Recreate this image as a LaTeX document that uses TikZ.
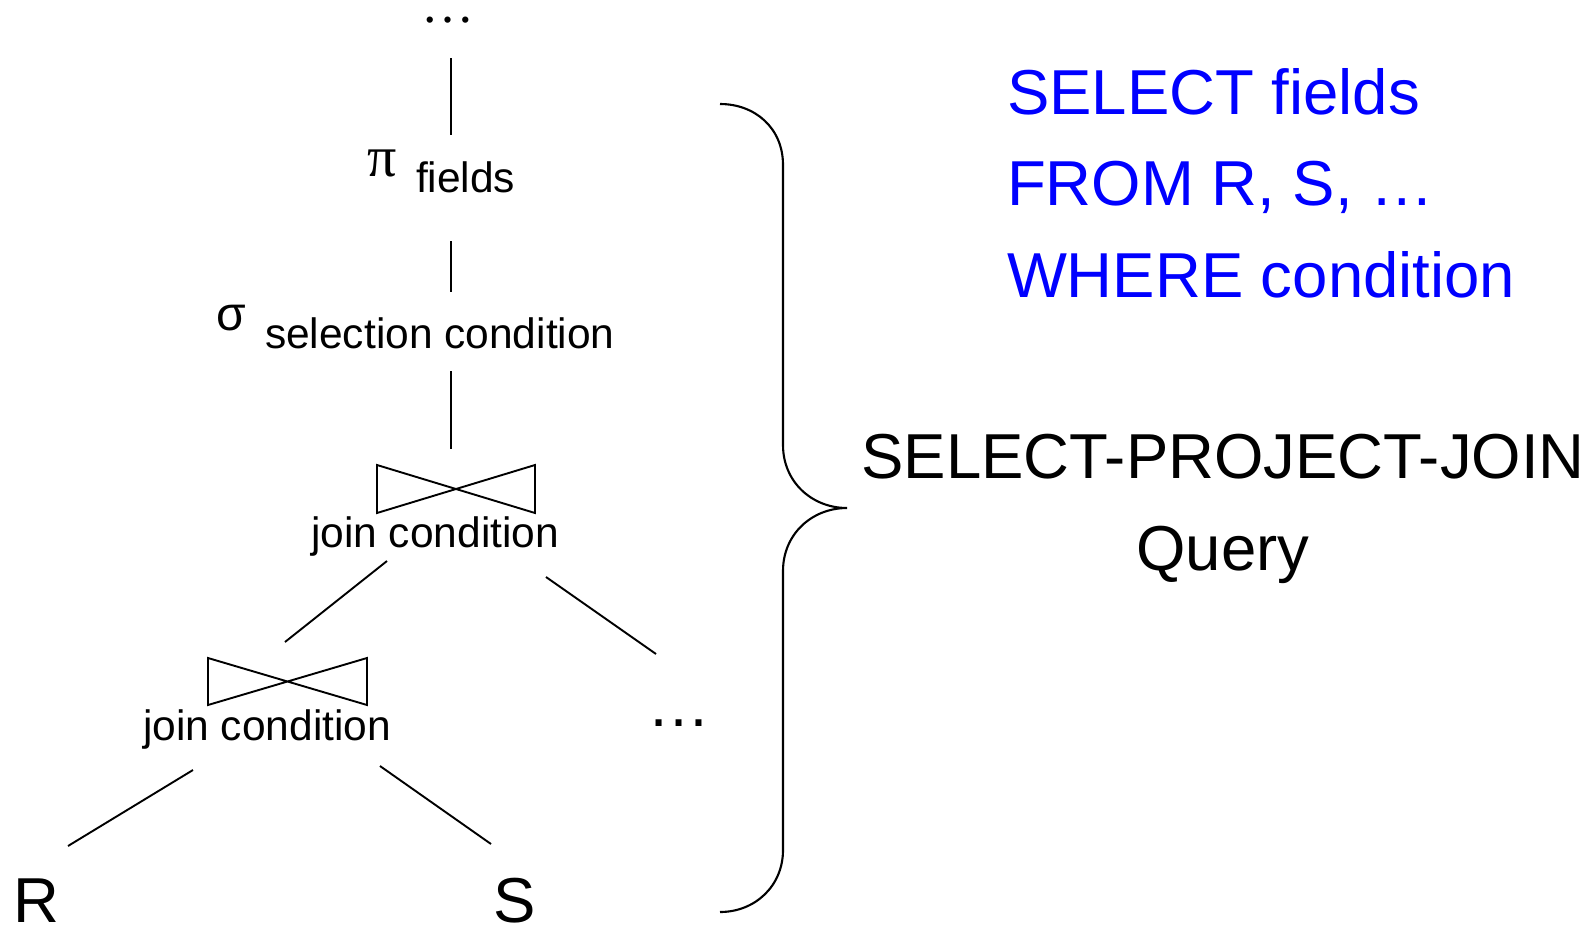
\documentclass[tikz,border=0pt]{standalone}
\usepackage{fontspec}
\setmainfont{Liberation Sans}
\newfontfamily\seriffont{Liberation Serif}
\usetikzlibrary{calc}

\tikzset{
  txt/.style={anchor=base west, inner sep=0pt, outer sep=0pt},
  small/.style={txt, font=\fontsize{42.5}{50}\selectfont},
  big/.style={txt, font=\fontsize{63.5}{76}\selectfont},
  sqlline/.style={big, text=sqlblue},
  link/.style={line width=1.9pt, line cap=butt},
  bowtie/.style={line width=1.9pt, line join=miter},
  bracepath/.style={line width=2.1pt},
}
\definecolor{sqlblue}{RGB}{0,0,255}

\begin{document}
\begin{tikzpicture}[x=1pt, y=-1pt]
  \useasboundingbox (0,0) rectangle (1595,924);

  % ---------- operator tree ----------
  \node[txt, font=\seriffont\fontsize{53}{53}\selectfont, text height=10pt, text depth=0pt] (top) at (421,22) {…};
  \node[txt, font=\seriffont\fontsize{58}{58}\selectfont] (pi) at (367,176) {π};
  \node[small] (pisub) at (416,192) {fields};
  \node[txt, font=\fontsize{48}{48}\selectfont] (sigma) at (216,330) {σ};
  \node[small] (selcond) at (265,348) {selection condition};

  % join operators (bow-tie symbols)
  \coordinate (j1) at (456,489);
  \draw[bowtie] (377,465) -- (535,513) -- (535,465) -- (377,513) -- cycle;
  \node[small] (jc1) at (311,547) {join condition};

  \coordinate (j2) at (288,682);
  \draw[bowtie] (208,658) -- (367,705) -- (367,658) -- (208,705) -- cycle;
  \node[small] (jc2) at (143,740) {join condition};

  \node[txt, font=\fontsize{63}{63}\selectfont] (more) at (647,726) {…};
  \node[big, text depth=0pt] (R) at (13,922) {R};
  \node[big, text depth=0pt] (S) at (493,922) {S};

  % connector end points
  \coordinate (top-b)  at (451,58);
  \coordinate (pi-t)   at (451,135);
  \coordinate (pi-b)   at (451,241);
  \coordinate (sel-t)  at (451,292);
  \coordinate (sel-b)  at (451,371);
  \coordinate (j1-t)   at (451,449);
  \coordinate (jc1-bl) at (387,561);
  \coordinate (j2-t)   at (285,642);
  \coordinate (jc1-br) at (546,577);
  \coordinate (more-t) at (656,654);
  \coordinate (jc2-bl) at (193,770);
  \coordinate (R-t)    at (68,846);
  \coordinate (jc2-br) at (380,766);
  \coordinate (S-t)    at (491,844);

  \draw[link] (top-b) -- (pi-t);
  \draw[link] (pi-b) -- (sel-t);
  \draw[link] (sel-b) -- (j1-t);
  \draw[link] (jc1-bl) -- (j2-t);
  \draw[link] (jc1-br) -- (more-t);
  \draw[link] (jc2-bl) -- (R-t);
  \draw[link] (jc2-br) -- (S-t);

  % ---------- curly brace ----------
  \coordinate (br-top) at (720,104);
  \coordinate (br-tip) at (847,508);
  \coordinate (br-bot) at (720,912);
  \draw[bracepath] (br-top)
      .. controls (755,104) and (783,128) .. (783,165)
      -- (783,445)
      .. controls (783,482) and (812,508) .. (br-tip)
      .. controls (812,508) and (783,534) .. (783,571)
      -- (783,850)
      .. controls (783,886) and (755,912) .. (br-bot);

  % ---------- SQL text ----------
  \node[sqlline] (sql1) at (1007,114) {SELECT fields};
  \node[sqlline] (sql2) at (1007,205) {FROM R, S, …};
  \node[sqlline] (sql3) at (1007,297) {WHERE condition};

  \node[big, anchor=base] (spj) at (1223,478) {SELECT-PROJECT-JOIN};
  \node[big, anchor=base] (query) at (1223,570) {Query};
\end{tikzpicture}
\end{document}
